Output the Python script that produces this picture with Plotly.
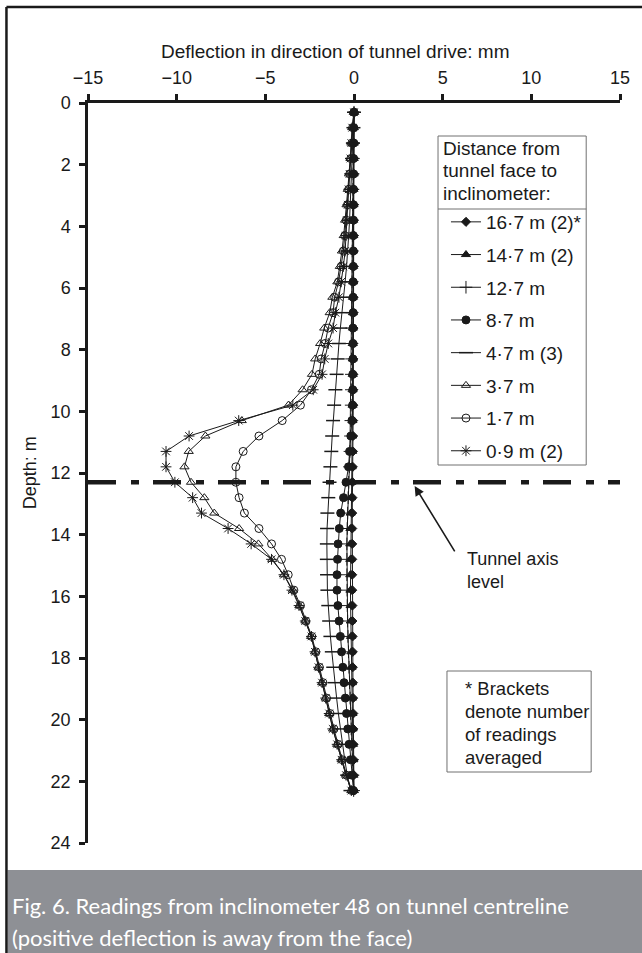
import plotly.graph_objects as go

# Inclinometer 48 readings: depth below ground (m) and deflection (mm)
depth_m = [0.3, 0.8, 1.3, 1.8, 2.3, 2.8, 3.3, 3.8, 4.3, 4.8,
           5.3, 5.8, 6.3, 6.8, 7.3, 7.8, 8.3, 8.8, 9.3, 9.8,
           10.3, 10.8, 11.3, 11.8, 12.3, 12.8, 13.3, 13.8, 14.3, 14.8,
           15.3, 15.8, 16.3, 16.8, 17.3, 17.8, 18.3, 18.8, 19.3, 19.8,
           20.3, 20.8, 21.3, 21.8, 22.3]

defl_16_7 = [0.00, 0.00, 0.00, -0.01, -0.01, -0.01, -0.02, -0.02, -0.02, -0.02,
             -0.03, -0.03, -0.03, -0.03, -0.03, -0.04, -0.04, -0.04, -0.04, -0.04,
             -0.05, -0.05, -0.06, -0.07, -0.08, -0.09, -0.10, -0.10, -0.10, -0.10,
             -0.10, -0.10, -0.09, -0.09, -0.08, -0.07, -0.07, -0.06, -0.05, -0.04,
             -0.04, -0.03, -0.02, -0.01, 0.00]
defl_14_7 = [0.00, -0.01, -0.01, -0.02, -0.02, -0.03, -0.03, -0.04, -0.04, -0.05,
             -0.05, -0.05, -0.06, -0.06, -0.06, -0.07, -0.07, -0.07, -0.08, -0.08,
             -0.09, -0.10, -0.11, -0.13, -0.15, -0.17, -0.19, -0.20, -0.21, -0.21,
             -0.21, -0.20, -0.19, -0.18, -0.17, -0.15, -0.14, -0.12, -0.11, -0.09,
             -0.08, -0.06, -0.04, -0.03, -0.01]
defl_12_7 = [0.00, -0.02, -0.03, -0.04, -0.05, -0.06, -0.07, -0.08, -0.09, -0.10,
             -0.10, -0.11, -0.12, -0.12, -0.13, -0.13, -0.14, -0.15, -0.15, -0.16,
             -0.18, -0.20, -0.23, -0.26, -0.30, -0.33, -0.36, -0.38, -0.40, -0.40,
             -0.40, -0.39, -0.38, -0.36, -0.34, -0.31, -0.28, -0.25, -0.22, -0.19,
             -0.16, -0.13, -0.09, -0.06, -0.02]
defl_8_7 = [0.00, -0.01, -0.01, -0.02, -0.02, -0.03, -0.03, -0.03, -0.04, -0.04,
            -0.04, -0.05, -0.05, -0.05, -0.06, -0.06, -0.06, -0.07, -0.07, -0.08,
            -0.12, -0.18, -0.25, -0.31, -0.45, -0.59, -0.75, -0.83, -0.90, -0.93,
            -0.96, -0.96, -0.91, -0.84, -0.77, -0.70, -0.63, -0.56, -0.49, -0.42,
            -0.35, -0.28, -0.20, -0.12, -0.03]
defl_4_7 = [0.00, -0.03, -0.06, -0.10, -0.13, -0.17, -0.20, -0.25, -0.30, -0.35,
            -0.42, -0.50, -0.60, -0.68, -0.77, -0.85, -0.92, -0.98, -1.05, -1.12,
            -1.18, -1.23, -1.28, -1.33, -1.38, -1.45, -1.50, -1.52, -1.53, -1.53,
            -1.52, -1.50, -1.45, -1.40, -1.33, -1.25, -1.17, -1.08, -0.98, -0.88,
            -0.77, -0.65, -0.52, -0.38, -0.20]
defl_3_7 = [0.00, -0.10, -0.15, -0.20, -0.28, -0.35, -0.42, -0.50, -0.58, -0.68,
            -0.80, -0.94, -1.22, -1.37, -1.68, -1.91, -2.19, -2.37, -2.90, -3.70,
            -6.33, -8.38, -9.32, -9.56, -9.19, -8.44, -7.88, -6.48, -5.39, -4.61,
            -3.95, -3.45, -3.08, -2.74, -2.42, -2.20, -2.00, -1.80, -1.60, -1.40,
            -1.18, -0.95, -0.70, -0.45, -0.15]
defl_1_7 = [0.00, -0.08, -0.12, -0.18, -0.24, -0.30, -0.37, -0.44, -0.52, -0.60,
            -0.72, -0.87, -1.09, -1.18, -1.46, -1.63, -1.85, -1.96, -2.40, -3.02,
            -4.05, -5.36, -6.25, -6.66, -6.66, -6.48, -6.18, -5.36, -4.65, -4.09,
            -3.71, -3.39, -3.02, -2.72, -2.38, -2.15, -1.95, -1.75, -1.55, -1.35,
            -1.13, -0.90, -0.66, -0.42, -0.12]
defl_0_9 = [0.00, -0.10, -0.15, -0.20, -0.25, -0.30, -0.35, -0.40, -0.45, -0.50,
            -0.60, -0.72, -0.85, -1.05, -1.18, -1.45, -1.65, -1.80, -2.30, -3.45,
            -6.50, -9.30, -10.60, -10.60, -10.10, -9.10, -8.60, -7.10, -5.80, -4.65,
            -3.95, -3.50, -3.10, -2.75, -2.40, -2.20, -2.00, -1.80, -1.60, -1.40,
            -1.20, -0.95, -0.70, -0.45, -0.15]

series_names = ["16·7 m (2)*", "14·7 m (2)", "12·7 m", "8·7 m",
                "4·7 m (3)", "3·7 m", "1·7 m", "0·9 m (2)"]
series_values = [defl_16_7, defl_14_7, defl_12_7, defl_8_7,
                 defl_4_7, defl_3_7, defl_1_7, defl_0_9]
series_symbols = ["diamond", "triangle-up", "cross-thin-open", "circle",
                  "line-ew-open", "triangle-up-open", "circle-open", "asterisk-open"]
series_sizes = [7, 8, 9, 8, 10, 8, 8, 9]

legend_heading = ["Distance from", "tunnel face to", "inclinometer:"]
footnote_lines = ["* Brackets", "denote number", "of readings", "averaged"]
caption_lines = ["Fig. 6. Readings from inclinometer 48 on tunnel centreline",
                 "(positive deflection is away from the face)"]

tunnel_axis_depth = 12.3
x_ticks = [-15, -10, -5, 0, 5, 10, 15]
y_ticks = [0, 2, 4, 6, 8, 10, 12, 14, 16, 18, 20, 22, 24]

FONT = "Liberation Sans, Arial, sans-serif"
INK = "#1a1a1a"
BOX = "#707070"

# plot area in pixels: left 88, right 623, top 103, bottom 843
L, R, T, B = 88, 623, 103, 843


def px(xp):
    return (xp - L) / (R - L)


def py(yp):
    return (B - yp) / (B - T)


fig = go.Figure()

# Tunnel axis level (dash-dot line across the plot)
fig.add_trace(go.Scatter(
    x=[x_ticks[0], x_ticks[-1]], y=[tunnel_axis_depth, tunnel_axis_depth],
    mode="lines", line=dict(color=INK, width=4.5, dash="28px,15px,8px,14px"),
    showlegend=False, hoverinfo="skip"))

for name, vals, sym, size in zip(series_names, series_values, series_symbols, series_sizes):
    fig.add_trace(go.Scatter(
        x=vals, y=depth_m, name=name, legendgroup=name,
        mode="lines+markers",
        line=dict(color=INK, width=1),
        marker=dict(symbol=sym, size=size, color=INK,
                    line=dict(color=INK, width=1.5 if sym == "line-ew-open" else 1)),
    ))

fig.update_layout(
    width=642, height=953,
    margin=dict(l=L, r=642 - R, t=T, b=953 - B),
    paper_bgcolor="white", plot_bgcolor="white",
    font=dict(family=FONT, size=18, color=INK),
    showlegend=True,
    legend=dict(
        x=px(448), y=py(203), xanchor="left", yanchor="top",
        bgcolor="rgba(0,0,0,0)", borderwidth=0,
        font=dict(family=FONT, size=19, color=INK),
        tracegroupgap=5, itemsizing="trace",
    ),
    xaxis=dict(
        side="top", range=[x_ticks[0], x_ticks[-1]], tickvals=x_ticks,
        showgrid=False, zeroline=False, showline=True, linecolor=INK, linewidth=2.5,
        ticks="outside", ticklen=6, tickwidth=2.5, tickcolor=INK,
        tickfont=dict(family=FONT, size=18, color=INK), ticklabelstandoff=3,
    ),
    yaxis=dict(
        range=[y_ticks[-1], y_ticks[0]], tickvals=y_ticks,
        showgrid=False, zeroline=False, showline=True, linecolor=INK, linewidth=2.5,
        ticks="outside", ticklen=6, tickwidth=2.5, tickcolor=INK,
        tickfont=dict(family=FONT, size=18, color=INK), ticklabelstandoff=5,
    ),
)

# Axis titles
fig.add_annotation(text="Deflection in direction of tunnel drive: mm",
                   xref="paper", yref="paper", x=px(337), y=py(52),
                   xanchor="center", yanchor="middle", showarrow=False,
                   font=dict(family=FONT, size=19, color=INK))
fig.add_annotation(text="Depth: m", textangle=-90,
                   xref="paper", yref="paper", x=px(30), y=py(473),
                   xanchor="center", yanchor="middle", showarrow=False,
                   font=dict(family=FONT, size=18, color=INK))

# Legend frame, heading and separator
fig.add_shape(type="rect", xref="paper", yref="paper",
              x0=px(440), x1=px(589), y0=py(465), y1=py(136),
              line=dict(color=BOX, width=1), fillcolor="white", layer="below")
for i, line in enumerate(legend_heading):
    fig.add_annotation(text=line, xref="paper", yref="paper",
                       x=px(443), y=py(148 + 22.5 * i),
                       xanchor="left", yanchor="middle", showarrow=False,
                       font=dict(family=FONT, size=19, color=INK))
fig.add_shape(type="line", xref="paper", yref="paper",
              x0=px(440), x1=px(589), y0=py(209), y1=py(209),
              line=dict(color=BOX, width=1))

# Tunnel axis label with arrow
fig.add_annotation(x=3.42, y=12.42, xref="x", yref="y", text="",
                   showarrow=True, ax=41, ay=67, arrowhead=2, arrowsize=1.2,
                   arrowwidth=1.6, arrowcolor=INK)
fig.add_annotation(x=6.25, y=15.15, xref="x", yref="y",
                   text="Tunnel axis<br>level", align="left",
                   xanchor="left", yanchor="middle", showarrow=False,
                   font=dict(family=FONT, size=18, color=INK))

# Footnote box
fig.add_shape(type="rect", xref="paper", yref="paper",
              x0=px(449), x1=px(594), y0=py(772), y1=py(671),
              line=dict(color=BOX, width=1), fillcolor="white", layer="below")
for i, line in enumerate(footnote_lines):
    fig.add_annotation(text=line, xref="paper", yref="paper",
                       x=px(465), y=py(688 + 23 * i),
                       xanchor="left", yanchor="middle", showarrow=False,
                       font=dict(family=FONT, size=18.5, color=INK))

# Figure frame (left and top edges) and caption band
fig.add_shape(type="rect", xref="paper", yref="paper",
              x0=px(7), x1=px(660), y0=py(980), y1=py(870),
              line=dict(width=0), fillcolor="#8e9095", layer="below")
fig.add_shape(type="line", xref="paper", yref="paper",
              x0=px(6), x1=px(6), y0=py(980), y1=py(7),
              line=dict(color=INK, width=2.5))
fig.add_shape(type="line", xref="paper", yref="paper",
              x0=px(6), x1=px(660), y0=py(7), y1=py(7),
              line=dict(color=INK, width=2.5))

CAP_FONT = dict(family="Lato, Open Sans, sans-serif", size=22, color="white")
for i, line in enumerate(caption_lines):
    fig.add_annotation(text=line, xref="paper", yref="paper",
                       x=px(10), y=py(905 + 32 * i),
                       xanchor="left", yanchor="middle", showarrow=False, font=CAP_FONT)

fig.write_html("out.html")
